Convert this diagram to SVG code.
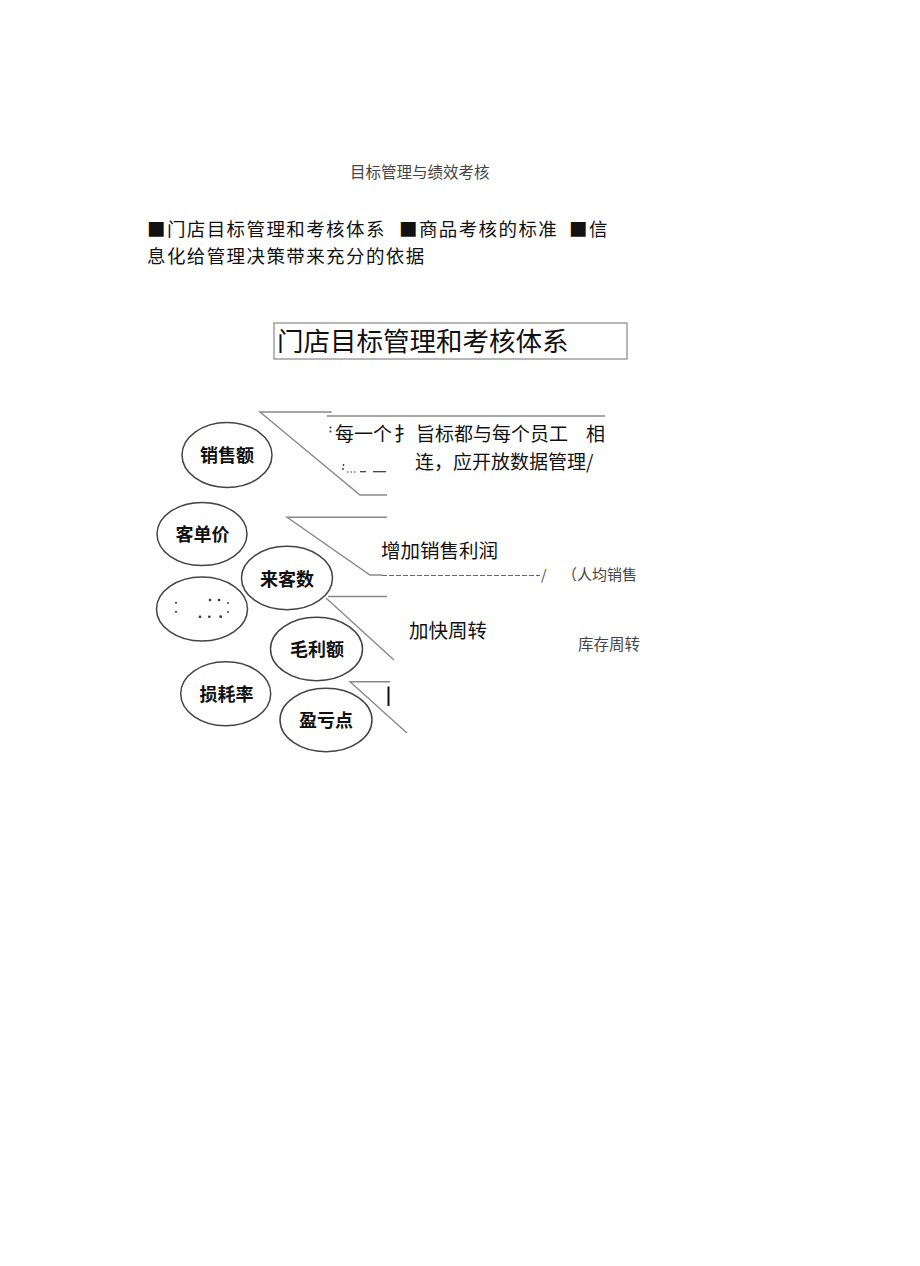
<svg xmlns="http://www.w3.org/2000/svg" width="920" height="1266" viewBox="0 0 920 1266">
<style>
.t{font-family:"Noto Sans CJK SC","Liberation Sans",sans-serif;fill:#111}
.g{font-family:"Noto Sans CJK SC","Liberation Sans",sans-serif;fill:#444}
.lb{font-family:"Noto Sans CJK SC","Liberation Sans",sans-serif;font-weight:bold;font-size:18px;fill:#111;text-anchor:middle}
.el{fill:#fff;stroke:#444;stroke-width:1.5}
.ln{fill:none;stroke:#888;stroke-width:1.4}
.dt{fill:#333}
</style>
<rect width="920" height="1266" fill="#fff"/>
<g id="title"><text class="g" x="350" y="178" font-size="15.5">目标管理与绩效考核</text></g>
<g id="intro">
<text class="t" font-size="18.5" letter-spacing="1.4"><tspan x="147" y="235.5">■门店目标管理和考核体系</tspan><tspan x="399" y="235.5">■商品考核的标准</tspan><tspan x="569" y="235.5">■信</tspan></text>
<text class="t" font-size="18.5" letter-spacing="1.4" x="147" y="262.5">息化给管理决策带来充分的依据</text>
</g>
<g id="heading">
<rect x="274" y="323" width="353" height="36" fill="#fff" stroke="#888" stroke-width="1.2"/>
<text class="t" x="277" y="351" font-size="26.5">门店目标管理和考核体系</text>
</g>
<g id="connectors">
<polyline class="ln" points="331.7,412 260,412 360,495 387,495"/>
<line class="ln" x1="327" y1="416" x2="605" y2="416"/>
<polyline class="ln" points="387,517.3 287,517.3 370,575 382,575"/>
<line x1="382" y1="575.5" x2="540" y2="575.5" stroke="#666" stroke-width="1" stroke-dasharray="5,2"/>
<line class="ln" x1="328" y1="596.5" x2="387" y2="596.5"/>
<line class="ln" x1="326" y1="598" x2="394" y2="660"/>
<polyline class="ln" points="390,681.7 350,681.7 407,733"/>
<line x1="388.5" y1="686.5" x2="388.5" y2="706" stroke="#111" stroke-width="2"/>
</g>
<g id="text-block">
<circle class="dt" cx="330.5" cy="427.5" r="1"/><circle class="dt" cx="330.5" cy="431.5" r="1"/>
<text class="t" x="335" y="441" font-size="19">每一个</text>
<text class="t" x="394" y="441" font-size="19">扌</text>
<text class="t" x="416" y="441" font-size="19">旨标都与每个员工</text>
<text class="t" x="586" y="441" font-size="19">相</text>
<circle class="dt" cx="343.5" cy="465" r="0.9"/><circle class="dt" cx="343" cy="469" r="0.9"/>
<line x1="347" y1="472" x2="357" y2="472" stroke="#333" stroke-width="1.2" stroke-dasharray="1.5,2"/>
<line x1="360" y1="471.7" x2="366" y2="471.7" stroke="#333" stroke-width="1.2"/>
<line x1="373" y1="471.7" x2="386" y2="471.7" stroke="#333" stroke-width="1.2"/>
<text class="t" x="415" y="469" font-size="19">连，应开放数据管理/</text>
<text class="t" x="381" y="558" font-size="19.5">增加销售利润</text>
<text class="g" x="541" y="580" font-size="14">/</text>
<text class="g" x="562" y="580" font-size="15">（人均销售</text>
<text class="t" x="409" y="638" font-size="19.5">加快周转</text>
<text class="g" x="578" y="650" font-size="15.5">库存周转</text>
</g>
<g id="n-xse"><ellipse class="el" cx="227" cy="455" rx="45" ry="32.5"/><text class="lb" x="227" y="462">销售额</text></g>
<g id="n-kdj"><ellipse class="el" cx="202" cy="534" rx="45" ry="31.5"/><text class="lb" x="202.5" y="541">客单价</text></g>
<g id="n-dots"><ellipse class="el" cx="202" cy="609" rx="45.5" ry="32"/>
<circle class="dt" cx="176" cy="602.7" r="1"/><circle class="dt" cx="176" cy="611.7" r="1"/>
<circle class="dt" cx="210" cy="600" r="1.3"/><circle class="dt" cx="219" cy="600" r="1.3"/>
<circle class="dt" cx="228" cy="603" r="0.9"/><circle class="dt" cx="228" cy="612" r="0.9"/>
<circle class="dt" cx="200" cy="616.7" r="1.3"/><circle class="dt" cx="209.3" cy="616.7" r="1.3"/><circle class="dt" cx="220.7" cy="616.7" r="1.4"/>
</g>
<g id="n-lks"><ellipse class="el" cx="287" cy="578" rx="45.5" ry="31.7"/><text class="lb" x="287" y="586">来客数</text></g>
<g id="n-mle"><ellipse class="el" cx="316.5" cy="649" rx="46" ry="31.7"/><text class="lb" x="317" y="656">毛利额</text></g>
<g id="n-shl"><ellipse class="el" cx="225.7" cy="693.7" rx="45" ry="32"/><text class="lb" x="226.5" y="701">损耗率</text></g>
<g id="n-ykd"><ellipse class="el" cx="326" cy="720" rx="46" ry="31.7"/><text class="lb" x="326" y="727">盈亏点</text></g>
</svg>
